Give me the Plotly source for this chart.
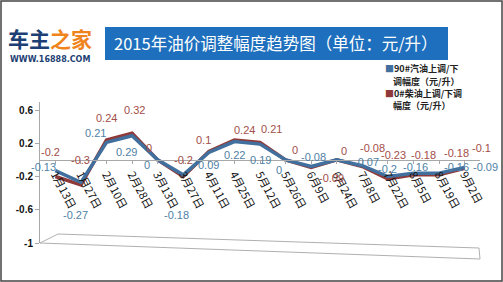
import plotly.graph_objects as go

categories = ["1月13日", "1月27日", "2月10日", "2月28日", "3月13日", "3月27日", "4月11日",
              "4月25日", "5月12日", "5月26日", "6月9日", "6月24日", "7月8日", "7月22日",
              "8月5日", "8月19日", "9月2日"]
gasoline = [-0.13, -0.27, 0.21, 0.29, 0, -0.18, 0.09, 0.22, 0.19, 0, -0.08, 0, -0.07, -0.2, -0.16, -0.16, -0.09]
diesel = [-0.2, -0.3, 0.24, 0.32, 0, -0.2, 0.1, 0.24, 0.21, 0, -0.09, 0, -0.08, -0.23, -0.18, -0.18, -0.1]
gas_name = ["90#汽油上调/下", "调幅度（元/升）"]
die_name = ["0#柴油上调/下调", "幅度（元/升）"]
y_ticks = [0.6, 0.2, -0.2, -0.6, -1]
title_text = "2015年油价调整幅度趋势图（单位：元/升）"

# label offsets (styling only)
gas_off = [(-12, 4), (-5, -33), (-11, 9), (-6, -16), (-11, -5), (-7, -40), (0, -13), (0, -13),
           (0, -16), (-7, -10), (2, 10), None, (4, 4), (0, 8), (2, 6), (17, 6), (21, 0)]
die_off = [(-5, 25), (0, 25), (0, 22), (2, 23), (-9, 12), (0, 17), (-5, 12), (10, 10), (11, 13),
           (9, 10), (20, -11), (7, 9), (10, 19), (6, 24), (10, 20), (17, 22), (17, 20)]

W, H = 503, 282
def px(x): return x / W
def py(y): return 1 - y / H

BLUE = "#41709f"
RED = "#8f3a38"
BLUE_T = "#4f7fa6"
RED_T = "#a24e48"

fig = go.Figure()
fig.add_trace(go.Scatter(x=categories, y=diesel, mode="lines", name="".join(die_name),
                         line=dict(color=RED, width=3.5), showlegend=False))
fig.add_trace(go.Scatter(x=categories, y=gasoline, mode="lines", name="".join(gas_name),
                         line=dict(color=BLUE, width=3.5), showlegend=False))

ann = []
for c, v, o in zip(categories, gasoline, gas_off):
    if o is None:
        continue
    ann.append(dict(x=c, y=v, xref="x", yref="y", text=f"{v:g}", showarrow=False,
                    xshift=o[0], yshift=o[1], font=dict(size=11, color=BLUE_T, family="Liberation Sans")))
for c, v, o in zip(categories, diesel, die_off):
    ann.append(dict(x=c, y=v, xref="x", yref="y", text=f"{v:g}", showarrow=False,
                    xshift=o[0], yshift=o[1], font=dict(size=11, color=RED_T, family="Liberation Sans")))

# title and logo
ann.append(dict(x=px(112), y=py(43), xref="paper", yref="paper", xanchor="left", yanchor="middle",
                text=title_text, showarrow=False,
                font=dict(size=16.5, color="white", family="Noto Sans CJK SC")))
ann.append(dict(x=px(6), y=py(38), xref="paper", yref="paper", xanchor="left", yanchor="middle",
                text="<b><span style='color:#1d3f73'>车主</span><span style='color:#f0841c'>之家</span></b>",
                showarrow=False, font=dict(size=21, family="Noto Sans CJK SC")))
ann.append(dict(x=px(8), y=py(60), xref="paper", yref="paper", xanchor="left", yanchor="middle",
                text="<b>WWW.16888.COM</b>", showarrow=False,
                font=dict(size=8, color="#1d3f73", family="DejaVu Sans")))
# legend (one annotation per line)
leg_lines = [(f"<span style='color:{BLUE}'>■</span>" + gas_name[0], 69, 383),
             (gas_name[1], 81, 391),
             (f"<span style='color:{RED}'>■</span>" + die_name[0], 93, 383),
             (die_name[1], 105, 391)]
for txt, yy, xx in leg_lines:
    ann.append(dict(x=px(xx), y=py(yy), xref="paper", yref="paper", xanchor="left", yanchor="middle",
                    align="left", showarrow=False, text=f"<b>{txt}</b>",
                    font=dict(size=9, color="#222", family="Noto Sans CJK SC")))

shapes = [
    # outer frame
    dict(type="rect", xref="paper", yref="paper", x0=px(1), x1=px(502), y0=py(281), y1=py(1),
         line=dict(color="#444", width=1.5)),
    # title box
    dict(type="rect", xref="paper", yref="paper", x0=px(105), x1=px(448), y0=py(60), y1=py(27),
         fillcolor="#1e6fbd", line=dict(width=0), layer="below"),
    # 3D floor
    dict(type="path", xref="paper", yref="paper",
         path=f"M {px(40)} {py(243)} L {px(58)} {py(234)} L {px(479)} {py(248)} L {px(480)} {py(259)} Z",
         line=dict(color="#b0b0b0", width=1), fillcolor="rgba(0,0,0,0)"),
]

ydom = [py(243), py(101.7)]
yr = [-1, 0.7]
zero_pos = ydom[0] + (0 - yr[0]) / (yr[1] - yr[0]) * (ydom[1] - ydom[0])

fig.update_layout(
    width=W, height=H, margin=dict(l=0, r=0, t=0, b=0),
    paper_bgcolor="white", plot_bgcolor="white",
    annotations=ann, shapes=shapes, showlegend=False,
    xaxis=dict(domain=[px(40), px(480)], range=[-0.6, 16.6], anchor="free", position=zero_pos,
               showline=True, linecolor="#a8a8a8", linewidth=1, showgrid=False, zeroline=False,
               tickangle=62, ticks="outside", ticklen=3, tickcolor="#a8a8a8", automargin=False,
               tickfont=dict(size=11, color="#111", family="Noto Sans CJK SC")),
    yaxis=dict(domain=ydom, range=yr, tickvals=y_ticks, ticktext=[f"<b>{t:g}</b>" for t in y_ticks],
               showline=True, linecolor="#a8a8a8", linewidth=1, showgrid=False, zeroline=False,
               ticks="outside", ticklen=4, tickcolor="#a8a8a8", automargin=False,
               tickfont=dict(size=10, color="#111", family="Liberation Sans")),
)

fig.write_html("out.html")
